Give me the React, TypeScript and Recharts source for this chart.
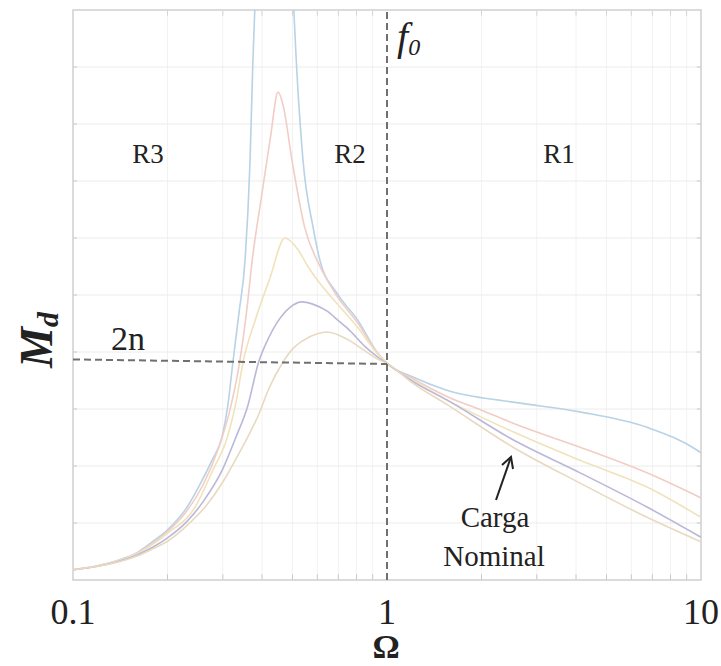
import { LineChart, Line, XAxis, YAxis, ReferenceLine, ReferenceArea } from 'recharts'

// normalized frequency (Ω = fs / f0) vs gain Md, one curve per load
const OMEGA_TICKS = [0.1, 1, 10]
const OMEGA_MINOR = [0.2, 0.3, 0.4, 0.5, 0.6, 0.7, 0.8, 0.9, 2, 3, 4, 5, 6, 7, 8, 9]
const GAIN_GRID = [1, 2, 3, 4, 5, 6, 7, 8, 9]
const RESONANCE = 1
const TWO_N = 3.82

// [Ω, Md]
const LOAD_LIGHTEST: [number, number][] = [
  [0.1, 0.18], [0.12, 0.25], [0.14, 0.35], [0.16, 0.48], [0.18, 0.68], [0.2, 0.88],
  [0.231, 1.28], [0.254, 1.68], [0.277, 2.1], [0.298, 2.5], [0.311, 3.05], [0.323, 3.82],
  [0.338, 4.7], [0.353, 5.6], [0.366, 7.3], [0.374, 9.1], [0.385, 11], [0.41, 18],
  [0.437, 30], [0.47, 18], [0.5, 10.6], [0.509, 9.6], [0.54, 7.37], [0.581, 6.2],
  [0.612, 5.6], [0.693, 5.03], [0.809, 4.55], [0.929, 4.0], [1, 3.8], [1.21, 3.56],
  [1.55, 3.33], [2.52, 3.12], [4.12, 2.95], [6.73, 2.68], [9.7, 2.28], [10, 2.23],
]
const LOAD_LIGHT: [number, number][] = [
  [0.1, 0.18], [0.12, 0.25], [0.14, 0.34], [0.16, 0.47], [0.18, 0.65], [0.2, 0.85],
  [0.231, 1.22], [0.26, 1.68], [0.29, 2.3], [0.315, 2.95], [0.34, 3.85], [0.357, 4.7],
  [0.372, 5.6], [0.399, 6.75], [0.425, 7.75], [0.45, 8.56], [0.468, 8.3], [0.498, 7.37],
  [0.546, 6.2], [0.612, 5.5], [0.693, 4.98], [0.809, 4.5], [0.929, 3.99], [1, 3.8],
  [1.21, 3.53], [1.55, 3.22], [2.0, 2.98], [2.52, 2.75], [4.12, 2.33], [6.73, 1.88], [10, 1.44],
]
const LOAD_MEDIUM: [number, number][] = [
  [0.1, 0.18], [0.12, 0.25], [0.14, 0.34], [0.16, 0.46], [0.18, 0.63], [0.2, 0.82],
  [0.245, 1.28], [0.28, 1.95], [0.31, 2.5], [0.33, 3.1], [0.348, 3.82], [0.38, 4.55],
  [0.424, 5.3], [0.473, 6.0], [0.52, 5.8], [0.56, 5.5], [0.612, 5.2], [0.693, 4.85],
  [0.809, 4.42], [0.929, 3.98], [1, 3.8], [1.21, 3.5], [1.55, 3.16], [2.52, 2.6],
  [4.12, 2.1], [6.73, 1.63], [10, 1.1],
]
const LOAD_NOMINAL: [number, number][] = [
  [0.1, 0.18], [0.12, 0.24], [0.14, 0.33], [0.16, 0.44], [0.18, 0.58], [0.2, 0.74],
  [0.23, 1.02], [0.26, 1.38], [0.3, 1.95], [0.33, 2.5], [0.36, 3.05], [0.39, 3.82],
  [0.42, 4.25], [0.447, 4.52], [0.49, 4.78], [0.536, 4.88], [0.58, 4.84], [0.643, 4.72],
  [0.7, 4.55], [0.76, 4.38], [0.85, 4.1], [0.93, 3.92], [1, 3.8], [1.21, 3.48],
  [1.55, 3.16], [2.52, 2.46], [4.12, 1.88], [6.73, 1.28], [10, 0.75],
]
const LOAD_HEAVY: [number, number][] = [
  [0.1, 0.18], [0.12, 0.24], [0.14, 0.32], [0.16, 0.42], [0.18, 0.55], [0.2, 0.68],
  [0.23, 0.95], [0.267, 1.32], [0.3, 1.72], [0.33, 2.12], [0.358, 2.48], [0.39, 2.9],
  [0.42, 3.35], [0.466, 3.82], [0.5, 4.05], [0.54, 4.2], [0.6, 4.32], [0.644, 4.35],
  [0.7, 4.3], [0.76, 4.2], [0.85, 4.02], [0.93, 3.88], [1, 3.8], [1.21, 3.45],
  [1.55, 3.08], [2.52, 2.33], [4.12, 1.7], [6.73, 1.1], [10, 0.67],
]

const SERIES = [
  { name: 'lightest', points: LOAD_LIGHTEST, color: '#b8d2e6' },
  { name: 'light', points: LOAD_LIGHT, color: '#f1cdc6' },
  { name: 'medium', points: LOAD_MEDIUM, color: '#f0e3bb' },
  { name: 'nominal', points: LOAD_NOMINAL, color: '#bab8d8' },
  { name: 'heavy', points: LOAD_HEAVY, color: '#e8d9c0' },
]

const toPoints = (pairs: [number, number][]) => pairs.map(([w, m]) => ({ w, m }))

const SERIF = 'Liberation Serif, DejaVu Serif, serif'
const txt = { fontFamily: SERIF, fill: '#222' }

export default function App() {
  return (
    <div style={{ position: 'absolute', left: 0, top: 0, width: 721, height: 666, background: '#fff' }}>
      <LineChart width={721} height={666} margin={{ top: 10, right: 20, bottom: 26, left: 73 }}>
        <XAxis
          type="number"
          dataKey="w"
          scale="log"
          domain={[0.1, 10]}
          ticks={OMEGA_TICKS}
          allowDataOverflow
          axisLine={false}
          tickLine={false}
          tickMargin={12}
          height={60}
          tick={{ fontSize: 36, fill: '#222', fontFamily: SERIF }}
        />
        <YAxis type="number" dataKey="m" domain={[0, 10]} allowDataOverflow hide />

        {OMEGA_MINOR.map((v) => (
          <ReferenceLine key={`gx${v}`} x={v} stroke="#f2f2f2" strokeWidth={1} />
        ))}
        {GAIN_GRID.map((v) => (
          <ReferenceLine key={`gy${v}`} y={v} stroke="#ececec" strokeWidth={1} />
        ))}
        {OMEGA_MINOR.map((v) => (
          <ReferenceLine key={`tb${v}`} segment={[{ x: v, y: 0 }, { x: v, y: 0.1 }]} stroke="#c8c8c8" />
        ))}
        {OMEGA_MINOR.map((v) => (
          <ReferenceLine key={`tt${v}`} segment={[{ x: v, y: 10 }, { x: v, y: 9.9 }]} stroke="#d4d4d4" />
        ))}
        {GAIN_GRID.map((v) => (
          <ReferenceLine key={`tl${v}`} segment={[{ x: 0.1, y: v }, { x: 0.103, y: v }]} stroke="#c8c8c8" />
        ))}
        {GAIN_GRID.map((v) => (
          <ReferenceLine key={`tr${v}`} segment={[{ x: 9.7, y: v }, { x: 10, y: v }]} stroke="#c8c8c8" />
        ))}
        <ReferenceArea x1={0.1} x2={10} y1={0} y2={10} fill="none" stroke="#cfcfcf" strokeWidth={1.5} />

        {SERIES.map((s) => (
          <Line
            key={s.name}
            data={toPoints(s.points)}
            dataKey="m"
            type="monotone"
            stroke={s.color}
            strokeWidth={1.6}
            dot={false}
            isAnimationActive={false}
          />
        ))}

        <ReferenceLine x={RESONANCE} stroke="#707070" strokeWidth={2} strokeDasharray="7 4" />
        <ReferenceLine
          segment={[{ x: 0.1, y: TWO_N + 0.05 }, { x: RESONANCE, y: TWO_N - 0.03 }]}
          stroke="#707070"
          strokeWidth={2}
          strokeDasharray="7 4"
        />
      </LineChart>

      <svg width={721} height={666} style={{ position: 'absolute', left: 0, top: 0, pointerEvents: 'none' }}>
        <text x={148} y={163} fontSize={27} textAnchor="middle" style={txt}>R3</text>
        <text x={350} y={163} fontSize={27} textAnchor="middle" style={txt}>R2</text>
        <text x={559} y={163} fontSize={27} textAnchor="middle" style={txt}>R1</text>
        <text x={397} y={50} fontSize={40} fontStyle="italic" style={txt}>
          f<tspan fontSize={24} dy={5}>0</tspan>
        </text>
        <text x={128} y={350} fontSize={34} textAnchor="middle" style={txt}>2n</text>
        <text x={495} y={527} fontSize={29} textAnchor="middle" style={txt}>Carga</text>
        <text x={494} y={566} fontSize={29} textAnchor="middle" style={txt}>Nominal</text>
        <g stroke="#222" strokeWidth={2} fill="none">
          <line x1={496} y1={500} x2={511} y2={457} />
          <polyline points="502,465 511,457 513,469" />
        </g>
        <text x={386} y={658} fontSize={34} fontWeight="bold" textAnchor="middle" style={txt}>Ω</text>
        <text
          transform="translate(52,340) rotate(-90)"
          fontSize={46}
          fontWeight="bold"
          fontStyle="italic"
          textAnchor="middle"
          style={txt}
        >
          M<tspan fontSize={30} dy={6}>d</tspan>
        </text>
      </svg>
    </div>
  )
}
